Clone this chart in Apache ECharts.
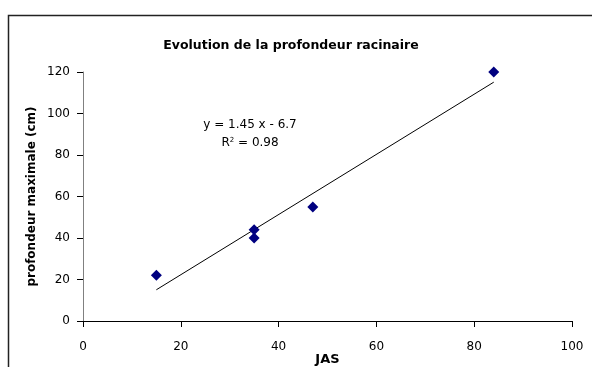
<!DOCTYPE html>
<html>
<head>
<meta charset="utf-8">
<script src="https://cdn.jsdelivr.net/npm/echarts@6/dist/echarts.min.js"></script>
<style>
  html, body { margin: 0; padding: 0; background: #fff; }
  #chart { width: 592px; height: 367px; }
</style>
</head>
<body>
<div id="chart"></div>
<script>
// Root depth measurements: days after sowing (JAS) vs maximum depth (cm)
const jas = [15, 35, 35, 47, 84];
const profondeur = [22, 44, 40, 55, 120];

// Linear trend fitted to the measurements
const pente = 1.45;
const ordonnee = -6.7;
const r2 = 0.98;

const xTicks = [0, 20, 40, 60, 80, 100];
const yTicks = [0, 20, 40, 60, 80, 100, 120];

const points = jas.map((x, i) => [x, profondeur[i]]);
const xMinData = Math.min(...jas);
const xMaxData = Math.max(...jas);
const tendance = [
  [xMinData, pente * xMinData + ordonnee],
  [xMaxData, pente * xMaxData + ordonnee]
];

const font = 'DejaVu Sans';
const chart = echarts.init(document.getElementById('chart'), null, { renderer: 'canvas' });

chart.setOption({
  animation: false,
  backgroundColor: '#fff',
  title: {
    text: 'Evolution de la profondeur racinaire',
    left: 286,
    top: 34,
    textAlign: 'center',
    textStyle: { fontFamily: font, fontSize: 12.5, fontWeight: 'bold', color: '#000' }
  },
  grid: { left: 83, right: 20, top: 72, bottom: 46, containLabel: false, outerBoundsMode: 'none' },
  xAxis: {
    type: 'value',
    min: xTicks[0],
    max: xTicks[xTicks.length - 1],
    interval: 20,
    name: 'JAS',
    nameLocation: 'middle',
    nameGap: 32,
    nameMoveOverlap: false,
    nameTextStyle: { fontFamily: font, fontSize: 13, fontWeight: 'bold', color: '#000' },
    axisLine: { lineStyle: { color: '#000', width: 1 } },
    axisTick: { show: true, length: 6, inside: false, lineStyle: { color: '#000' } },
    axisLabel: { fontFamily: font, fontSize: 12, color: '#000', margin: 20 },
    splitLine: { show: false }
  },
  yAxis: {
    type: 'value',
    min: yTicks[0],
    max: yTicks[yTicks.length - 1],
    interval: 20,
    name: 'profondeur maximale (cm)',
    nameLocation: 'middle',
    nameGap: 45,
    nameMoveOverlap: false,
    nameTextStyle: { fontFamily: font, fontSize: 12, fontWeight: 'bold', color: '#000' },
    axisLine: { show: true, lineStyle: { color: '#808080', width: 1 } },
    axisTick: { show: true, length: 6, inside: false, lineStyle: { color: '#000' } },
    axisLabel: { fontFamily: font, fontSize: 12, color: '#000', margin: 13 },
    splitLine: { show: false }
  },
  series: [
    {
      name: 'tendance',
      type: 'line',
      data: tendance,
      symbol: 'none',
      lineStyle: { color: '#000', width: 1 },
      silent: true,
      z: 1
    },
    {
      name: 'profondeur',
      type: 'scatter',
      data: points,
      symbol: 'diamond',
      symbolSize: 11,
      itemStyle: { color: '#000080', opacity: 1 },
      z: 2
    }
  ],
  graphic: [
    {
      type: 'rect',
      shape: { x: 8.5, y: 15.5, width: 700, height: 500 },
      style: { fill: 'none', stroke: '#222', lineWidth: 1.5 },
      silent: true,
      z: -1
    },
    {
      type: 'text',
      style: {
        x: 250,
        y: 125,
        text: 'y = ' + pente.toFixed(2) + ' x - ' + Math.abs(ordonnee).toFixed(1),
        fontFamily: font, fontSize: 12, fill: '#000',
        align: 'center', verticalAlign: 'middle'
      }
    },
    {
      type: 'text',
      style: {
        x: 250,
        y: 143,
        text: '{b|R}{s|2}{b| = ' + r2.toFixed(2) + '}',
        fontFamily: font,
        fill: '#000',
        align: 'center',
        verticalAlign: 'middle',
        rich: {
          b: { fontFamily: font, fontSize: 12, color: '#000' },
          s: { fontFamily: font, fontSize: 7, color: '#000', verticalAlign: 'top', padding: [0, 0, 5, 0] }
        }
      }
    }
  ]
});
</script>
</body>
</html>
